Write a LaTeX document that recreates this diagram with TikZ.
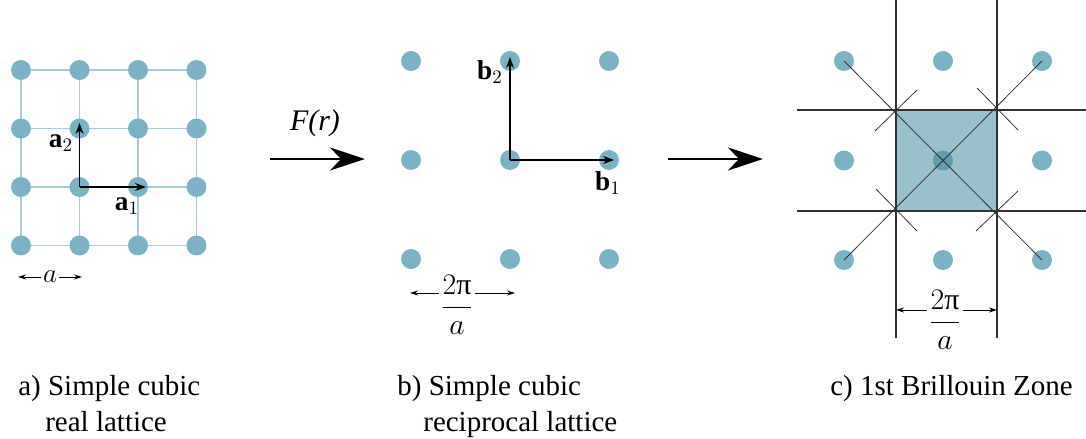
\RequirePackage{fix-cm}
\documentclass[tikz,border=0pt]{standalone}
\usepackage{fontspec}
\setmainfont{Liberation Serif}
\usetikzlibrary{arrows.meta,calc,backgrounds}
\definecolor{pontoAzul}{RGB}{125,178,197}
\definecolor{redeAzul}{RGB}{168,203,216}
\definecolor{zonaAzul}{RGB}{70,140,160}
\definecolor{linhaCinza}{RGB}{50,50,50}
\tikzset{
  ponto/.style={circle, fill=pontoAzul, inner sep=0pt, minimum size=0.4cm},
  rede/.style={redeAzul, line width=0.85pt},
  vetor/.style={-{Stealth[length=2.2mm,width=1.6mm]}, line width=1pt},
  setagrande/.style={-{Stealth[length=7mm,width=4.6mm,inset=2.2mm]}, line width=1.7pt},
  cota/.style={{Stealth[length=1.6mm,width=1mm]}-{Stealth[length=1.6mm,width=1mm]}, line width=0.55pt},
  rotulo/.style={inner sep=1pt},
  rotulofundo/.style={fill=white, inner sep=1pt},
  fracao/.style={fill=white, inner sep=1pt, font=\fontsize{17}{20}\selectfont},
  fronteira/.style={linhaCinza, line width=0.7pt},
  bissetriz/.style={linhaCinza, line width=0.45pt},
  zona/.style={fill=zonaAzul, fill opacity=0.55, draw=linhaCinza, line width=0.6pt},
  legenda/.style={anchor=north west, align=left, inner sep=0pt,
                  font=\fontsize{16.5}{20.5}\selectfont},
}

\begin{document}
\begin{tikzpicture}[x=0.02cm, y=-0.02cm, font=\fontsize{15.5}{19}\selectfont]
  \useasboundingbox (0,0) rectangle (1086,439);

  % a) rede real
  \foreach \i in {0,...,3}
    \foreach \j in {0,...,3}
      \node[ponto] (a-\i-\j) at ({21+58.5*\i},{70+58.5*\j}) {};
  \begin{scope}[on background layer]
    \foreach \k in {0,...,3} {
      \draw[rede] (a-0-\k.center) -- (a-3-\k.center);
      \draw[rede] (a-\k-0.center) -- (a-\k-3.center);
    }
  \end{scope}
  \draw[vetor] (a-1-2.center) -- ([xshift=1.6mm]a-2-2.center);
  \draw[vetor] (a-1-2.center) -- ([yshift=1.1mm]a-1-1.center);
  \node[rotulo] (a1) at (127,206) {$\mathbf{a}_1$};
  \node[rotulo] (a2) at (61,143) {$\mathbf{a}_2$};
  \coordinate (cotaA1) at (18,277);
  \coordinate (cotaA2) at (82,277);
  \draw[cota] (cotaA1) -- node[rotulofundo] (rotA) {$a$} (cotaA2);

  % seta F(r)
  \coordinate (fA) at (270,159);
  \coordinate (fB) at (365,159);
  \draw[setagrande] (fA) -- (fB);
  \node[rotulo, font=\fontsize{17}{20}\selectfont] (fr) at (315,123) {\textit{F(r)}};

  % b) rede reciproca
  \foreach \i in {0,...,2}
    \foreach \j in {0,...,2}
      \node[ponto] (b-\i-\j) at ({411+99*\i},{61+99*\j}) {};
  \draw[vetor] (b-1-1.center) -- ([xshift=1mm]b-2-1.center);
  \draw[vetor] (b-1-1.center) -- ([yshift=0.8mm]b-1-0.center);
  \node[rotulo] (b1) at (608,183) {$\mathbf{b}_1$};
  \node[rotulo] (b2) at (490,72) {$\mathbf{b}_2$};
  \coordinate (cotaB1) at (410,293);
  \coordinate (cotaB2) at (515,293);
  \draw[cota] (cotaB1) -- (cotaB2);
  \node[fracao] (rotB) at (457,305) {$\displaystyle\frac{2\mbox{π}}{a}$};

  % seta para a zona
  \coordinate (gA) at (668,159);
  \coordinate (gB) at (763,159);
  \draw[setagrande] (gA) -- (gB);

  % c) 1a zona de Brillouin
  \foreach \i in {0,...,2}
    \foreach \j in {0,...,2}
      \node[ponto] (c-\i-\j) at ({844+99*\i},{61+99.5*\j}) {};
  \coordinate (zNW) at (896,110);
  \coordinate (zNE) at (997,110);
  \coordinate (zSW) at (896,211);
  \coordinate (zSE) at (997,211);
  \draw[zona] (zNW) rectangle (zSE);
  \draw[fronteira] (zNW |- 0,0) -- (zSW |- 0,338);
  \draw[fronteira] (zNE |- 0,0) -- (zSE |- 0,338);
  \draw[fronteira] (797,0 |- zNW) -- (1086,0 |- zNE);
  \draw[fronteira] (797,0 |- zSW) -- (1086,0 |- zSE);
  \draw[bissetriz] (c-0-0.center) -- (c-2-2.center);
  \draw[bissetriz] (c-2-0.center) -- (c-0-2.center);
  \draw[bissetriz] ($(zNW)+(-21,21)$) -- ($(zNW)+(21,-20)$);
  \draw[bissetriz] ($(zNE)+(-20,-22)$) -- ($(zNE)+(21,20)$);
  \draw[bissetriz] ($(zSW)+(-20,-22)$) -- ($(zSW)+(21,20)$);
  \draw[bissetriz] ($(zSE)+(21,-20)$) -- ($(zSE)+(-21,20)$);
  \coordinate (cotaC1) at (zSW |- 0,310);
  \coordinate (cotaC2) at (zSE |- 0,310);
  \draw[cota] (cotaC1) -- (cotaC2);
  \node[fracao] (rotC) at (945,320) {$\displaystyle\frac{2\mbox{π}}{a}$};

  % legendas
  \node[legenda] (legA) at (18,375) {a) Simple cubic\\\hspace*{0.54cm}real lattice};
  \node[legenda] (legB) at (397,375) {b) Simple cubic\\\hspace*{0.52cm}reciprocal lattice};
  \node[legenda] (legC) at (830,375) {c) 1st Brillouin Zone};
\end{tikzpicture}
\end{document}
